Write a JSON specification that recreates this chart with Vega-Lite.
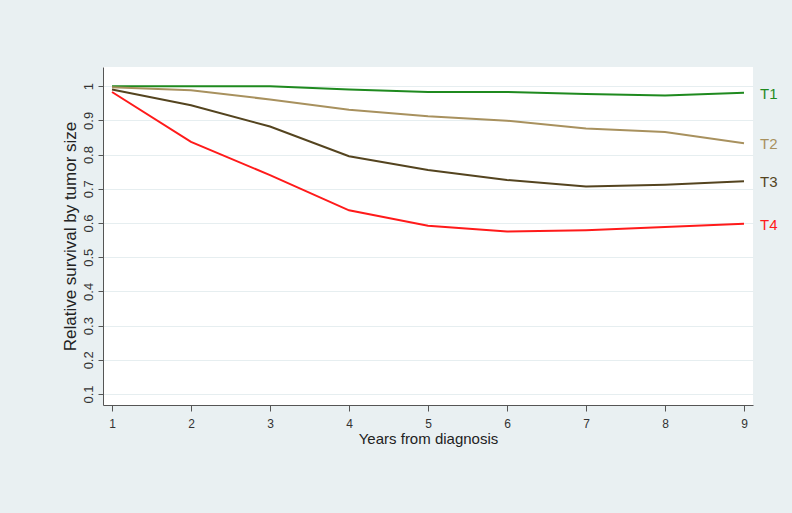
{
  "$schema": "https://vega.github.io/schema/vega-lite/v6.json",
  "autosize": {"type": "none"},
  "width": 650,
  "height": 338,
  "padding": {"left": 103, "top": 67, "right": 39, "bottom": 108},
  "background": "#e9f0f2",
  "config": {
    "view": {"fill": "#ffffff", "stroke": null},
    "font": "Liberation Sans",
    "axis": {
      "domainColor": "#555555",
      "tickColor": "#555555",
      "labelColor": "#333333",
      "titleColor": "#222222",
      "labelFont": "Liberation Sans",
      "titleFont": "Liberation Sans",
      "titleFontWeight": "normal"
    }
  },
  "data": {
    "values": [
      {"year": 1, "size": "T1", "surv": 1.0},
      {"year": 2, "size": "T1", "surv": 1.0},
      {"year": 3, "size": "T1", "surv": 1.0},
      {"year": 4, "size": "T1", "surv": 0.99},
      {"year": 5, "size": "T1", "surv": 0.983},
      {"year": 6, "size": "T1", "surv": 0.983},
      {"year": 7, "size": "T1", "surv": 0.977},
      {"year": 8, "size": "T1", "surv": 0.973},
      {"year": 9, "size": "T1", "surv": 0.981},
      {"year": 1, "size": "T2", "surv": 0.997},
      {"year": 2, "size": "T2", "surv": 0.988},
      {"year": 3, "size": "T2", "surv": 0.961},
      {"year": 4, "size": "T2", "surv": 0.931},
      {"year": 5, "size": "T2", "surv": 0.912},
      {"year": 6, "size": "T2", "surv": 0.899},
      {"year": 7, "size": "T2", "surv": 0.876},
      {"year": 8, "size": "T2", "surv": 0.866},
      {"year": 9, "size": "T2", "surv": 0.833},
      {"year": 1, "size": "T3", "surv": 0.99},
      {"year": 2, "size": "T3", "surv": 0.944},
      {"year": 3, "size": "T3", "surv": 0.882},
      {"year": 4, "size": "T3", "surv": 0.795},
      {"year": 5, "size": "T3", "surv": 0.755},
      {"year": 6, "size": "T3", "surv": 0.726},
      {"year": 7, "size": "T3", "surv": 0.707},
      {"year": 8, "size": "T3", "surv": 0.712},
      {"year": 9, "size": "T3", "surv": 0.722},
      {"year": 1, "size": "T4", "surv": 0.983},
      {"year": 2, "size": "T4", "surv": 0.837},
      {"year": 3, "size": "T4", "surv": 0.74},
      {"year": 4, "size": "T4", "surv": 0.637},
      {"year": 5, "size": "T4", "surv": 0.592},
      {"year": 6, "size": "T4", "surv": 0.575},
      {"year": 7, "size": "T4", "surv": 0.579},
      {"year": 8, "size": "T4", "surv": 0.588},
      {"year": 9, "size": "T4", "surv": 0.598}
    ]
  },
  "encoding": {
    "x": {
      "field": "year",
      "type": "quantitative",
      "scale": {"domain": [0.886, 9.114], "nice": false, "zero": false},
      "axis": {
        "title": "Years from diagnosis",
        "values": [1, 2, 3, 4, 5, 6, 7, 8, 9],
        "grid": false,
        "tickSize": 6,
        "labelPadding": 7,
        "labelFontSize": 12,
        "titleFontSize": 15,
        "titlePadding": 2,
        "labelFlush": false
      }
    },
    "y": {
      "field": "surv",
      "type": "quantitative",
      "scale": {"domain": [0.068, 1.056], "nice": false, "zero": false},
      "axis": {
        "title": "Relative survival by tumor size",
        "values": [0.1, 0.2, 0.3, 0.4, 0.5, 0.6, 0.7, 0.8, 0.9, 1],
        "labelExpr": "datum.value == 1 ? '1' : format(datum.value, '.1f')",
        "labelAngle": -90,
        "labelAlign": "center",
        "labelBaseline": "bottom",
        "labelPadding": 3,
        "tickSize": 5,
        "grid": true,
        "gridColor": "#e6eef0",
        "gridWidth": 1,
        "labelFontSize": 13,
        "titleFontSize": 17,
        "titlePadding": 3,
        "labelFlush": false
      }
    },
    "color": {
      "field": "size",
      "type": "nominal",
      "scale": {
        "domain": ["T1", "T2", "T3", "T4"],
        "range": ["#1f8a1f", "#a8915e", "#54441f", "#ff1a1a"]
      },
      "legend": null
    }
  },
  "layer": [
    {
      "mark": {"type": "line", "strokeWidth": 2, "interpolate": "linear"}
    },
    {
      "transform": [{"filter": "datum.year == 9"}],
      "mark": {"type": "text", "align": "left", "baseline": "middle", "dx": 16, "dy": 1, "fontSize": 15, "clip": false},
      "encoding": {"text": {"field": "size"}}
    }
  ]
}
